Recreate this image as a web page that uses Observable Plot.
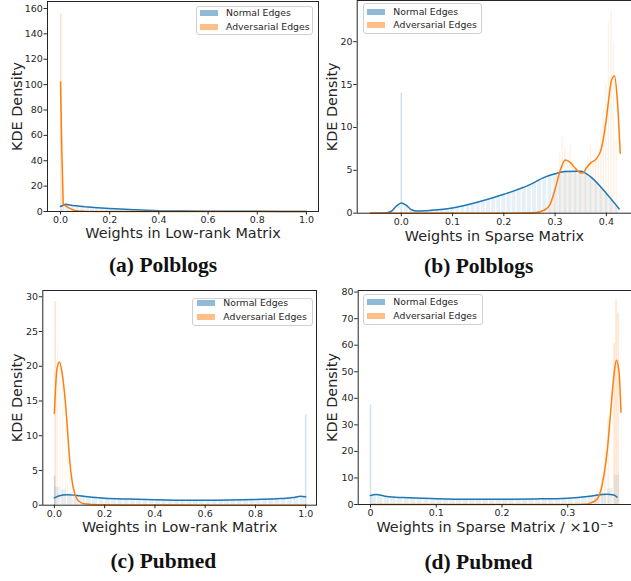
<!DOCTYPE html>
<html><head><meta charset="utf-8">
<script src="https://cdn.jsdelivr.net/npm/d3@7"></script>
<script src="https://cdn.jsdelivr.net/npm/@observablehq/plot@0.6"></script>
<style>
body{margin:0;background:#fff;}
#root{position:relative;width:631px;height:581px;overflow:hidden;font-family:"DejaVu Sans",sans-serif;background:#fff;}
.panel{position:absolute;}
.legend{position:absolute;border:1px solid #d0d0d0;border-radius:3px;background:rgba(255,255,255,0.8);box-sizing:border-box;font-size:9.3px;color:#262626;}
.row{position:absolute;white-space:nowrap;height:14px;line-height:14px;}
.sw{position:absolute;width:18px;height:6px;}
.cap{position:absolute;font-family:"Liberation Serif",serif;font-weight:bold;font-size:21.5px;line-height:21.5px;color:#111;transform:translateX(-50%);white-space:nowrap;}
</style></head>
<body>
<div id="root"></div>
<script>
// ---------- shared ----------
const seriesNames = ["Normal Edges", "Adversarial Edges"];
const seriesColors = ["#1f77b4", "#ff7f0e"];
const histColors = ["#8fbbd9", "#ffbf86"];
const yLabelText = "KDE Density";
const captions = ["(a) Polblogs", "(b) Polblogs", "(c) Pubmed", "(d) Pubmed"];
const xLabels = ["Weights in Low-rank Matrix", "Weights in Sparse Matrix", "Weights in Low-rank Matrix", "Weights in Sparse Matrix / \u00d710\u207b\u00b3"];

// ---------- panel (a) ----------
const aXTicks = [0, 0.2, 0.4, 0.6, 0.8, 1.0];
const aXTickLabels = ["0.0", "0.2", "0.4", "0.6", "0.8", "1.0"];
const aYTicks = [0, 20, 40, 60, 80, 100, 120, 140, 160];
const aBlueX = [0, 0.02, 0.05, 0.1, 0.15, 0.2, 0.3, 0.4, 0.5, 0.6, 0.7, 0.8, 0.9, 1.0];
const aBlueY = [3.9, 5.7, 4.8, 3.7, 3.0, 2.4, 1.3, 0.6, 0.35, 0.2, 0.15, 0.1, 0.08, 0.05];
const aOrangeX = [0, 0.005, 0.011, 0.02, 0.03, 0.04, 0.05, 0.06, 0.08, 0.1, 0.15, 0.2, 0.4, 0.6, 0.8, 1.0];
const aOrangeY = [102, 50, 5.5, 4.5, 3.3, 2.3, 1.4, 0.8, 0.3, 0.1, 0.02, 0, 0, 0, 0, 0];
const aBlueHistX = [0.01,0.03,0.05,0.07,0.09,0.11,0.13,0.15,0.17,0.19,0.21,0.23,0.25,0.27,0.29,0.31,0.33,0.35,0.37,0.39,0.41,0.43,0.45,0.47,0.49];
const aBlueHistH = [5, 6, 5, 4.5, 4, 3.6, 3.2, 2.9, 2.6, 2.3, 2.1, 1.9, 1.7, 1.5, 1.3, 1.2, 1.0, 0.9, 0.8, 0.7, 0.6, 0.5, 0.45, 0.4, 0.35];
const aBlueHistW = 0.02;
const aOrangeHistX = [0.013, 0.023, 0.033, 0.043, 0.053];
const aOrangeHistH = [6, 4, 3, 1.5, 0.8];
const aOrangeHistW = 0.008;
const aSpikeX = [0.001];
const aSpikeH = [156];
const aSpikeS = [1];

// ---------- panel (b) ----------
const bXTicks = [0, 0.1, 0.2, 0.3, 0.4];
const bXTickLabels = ["0.0", "0.1", "0.2", "0.3", "0.4"];
const bYTicks = [0, 5, 10, 15, 20];
const bBlueX = [-0.06, -0.03, -0.02, -0.01, 0.0, 0.01, 0.02, 0.03, 0.05, 0.1, 0.15, 0.2, 0.25, 0.28, 0.3, 0.32, 0.35, 0.37, 0.4, 0.425];
const bBlueY = [0, 0.02, 0.2, 0.8, 1.2, 0.9, 0.4, 0.25, 0.3, 0.6, 1.3, 2.2, 3.3, 4.2, 4.6, 4.85, 4.9, 4.2, 2.3, 0.5];
const bOrangeX = [-0.06, 0.1, 0.2, 0.26, 0.28, 0.29, 0.3, 0.31, 0.32, 0.33, 0.34, 0.35, 0.355, 0.36, 0.37, 0.38, 0.39, 0.4, 0.405, 0.41, 0.416, 0.421, 0.427];
const bOrangeY = [0, 0, 0, 0.05, 0.4, 1.0, 2.8, 5.0, 6.2, 5.9, 5.2, 4.7, 4.7, 5.2, 5.9, 6.3, 7.5, 11, 13.5, 15.5, 16.0, 13.5, 7.0];
const bBlueHistX = [0.01,0.02,0.03,0.04,0.05,0.06,0.07,0.08,0.09,0.10,0.11,0.12,0.13,0.14,0.15,0.16,0.17,0.18,0.19,0.20,0.21,0.22,0.23,0.24,0.25,0.26,0.27,0.28,0.29,0.30,0.31,0.32,0.33,0.34,0.35,0.36,0.37,0.38,0.39,0.40,0.41,0.42];
const bBlueHistH = [0.8,0.4,0.3,0.3,0.35,0.4,0.45,0.5,0.55,0.6,0.7,0.8,0.9,1.1,1.3,1.5,1.6,1.8,2.0,2.2,2.4,2.6,2.9,3.1,3.3,3.6,3.9,4.2,4.4,4.6,4.8,5.0,4.9,5.0,4.9,4.6,4.2,3.6,2.9,2.2,1.5,0.8];
const bBlueHistW = 0.01;
const bOrangeHistX = [0.29,0.295,0.30,0.305,0.31,0.315,0.32,0.325,0.33,0.335,0.34,0.345,0.35,0.355,0.36,0.365,0.37,0.375,0.38,0.385,0.39,0.395,0.40,0.405,0.41,0.415,0.42];
const bOrangeHistH = [0.5,1.5,3,5,7,9,7.5,6,7.9,5.5,5,4.5,5,4.5,5.5,6.5,7.9,6,6.5,7,9.5,12,15,22.4,23.7,20,8.5];
const bOrangeHistW = 0.005;
const bSpikeX = [0.0];
const bSpikeH = [14];
const bSpikeS = [0];

// ---------- panel (c) ----------
const cXTicks = [0, 0.2, 0.4, 0.6, 0.8, 1.0];
const cXTickLabels = ["0.0", "0.2", "0.4", "0.6", "0.8", "1.0"];
const cYTicks = [0, 5, 10, 15, 20, 25, 30];
const cBlueX = [0, 0.02, 0.05, 0.08, 0.1, 0.15, 0.2, 0.3, 0.4, 0.5, 0.6, 0.7, 0.8, 0.9, 0.95, 0.98, 1.0];
const cBlueY = [1.05, 1.35, 1.5, 1.45, 1.35, 1.15, 1.0, 0.88, 0.78, 0.72, 0.7, 0.74, 0.82, 0.95, 1.1, 1.3, 1.2];
const cOrangeX = [0, 0.01, 0.02, 0.03, 0.04, 0.05, 0.06, 0.07, 0.08, 0.09, 0.1, 0.12, 0.15, 0.2, 0.4, 0.6, 0.8, 1.0];
const cOrangeY = [13.2, 19.5, 20.6, 19.2, 16.3, 12.0, 6.9, 3.6, 1.8, 0.9, 0.5, 0.2, 0.1, 0.05, 0.02, 0.01, 0.01, 0.0];
const cBlueHistX = [0.0125,0.0375,0.0625,0.0875,0.1125,0.1375,0.1625,0.1875,0.2125,0.2375,0.2625,0.2875,0.3125,0.3375,0.3625,0.3875,0.4125,0.4375,0.4625,0.4875,0.5125,0.5375,0.5625,0.5875,0.6125,0.6375,0.6625,0.6875,0.7125,0.7375,0.7625,0.7875,0.8125,0.8375,0.8625,0.8875,0.9125,0.9375,0.9625,0.9875];
const cBlueHistH = [2.6,2.2,1.6,1.5,1.4,1.3,1.2,1.1,1.0,1.0,0.95,0.9,0.9,0.85,0.85,0.8,0.8,0.8,0.75,0.75,0.7,0.7,0.7,0.7,0.7,0.7,0.75,0.75,0.75,0.8,0.8,0.85,0.85,0.9,0.95,1.0,1.0,1.1,1.1,1.2];
const cBlueHistW = 0.025;
const cOrangeHistX = [0.01, 0.015, 0.025, 0.035, 0.045, 0.055, 0.065, 0.075, 0.085, 0.095, 0.105];
const cOrangeHistH = [18, 23, 21, 17, 12, 7, 4, 2, 1, 0.5, 0.3];
const cOrangeHistW = 0.008;
const cSpikeX = [0.003, 0.001, 1.0];
const cSpikeH = [29.3, 4.2, 13];
const cSpikeS = [1, 0, 0];

// ---------- panel (d) ----------
const dXTicks = [0, 0.1, 0.2, 0.3];
const dXTickLabels = ["0", "0.1", "0.2", "0.3"];
const dYTicks = [0, 10, 20, 30, 40, 50, 60, 70, 80];
const dBlueX = [0, 0.008, 0.025, 0.05, 0.1, 0.15, 0.2, 0.25, 0.3, 0.33, 0.35, 0.36, 0.37, 0.375];
const dBlueY = [3.4, 3.8, 3.0, 2.6, 2.2, 2.0, 2.0, 2.1, 2.4, 3.0, 3.7, 3.9, 3.6, 2.8];
const dOrangeX = [0, 0.1, 0.2, 0.3, 0.325, 0.335, 0.345, 0.35, 0.355, 0.36, 0.365, 0.37, 0.374, 0.378, 0.381];
const dOrangeY = [0, 0, 0, 0, 0.1, 0.6, 2.1, 5, 11, 20, 34, 48, 54.3, 50, 34.8];
const dBlueHistX = [0.005,0.015,0.025,0.035,0.045,0.055,0.065,0.075,0.085,0.095,0.105,0.115,0.125,0.135,0.145,0.155,0.165,0.175,0.185,0.195,0.205,0.215,0.225,0.235,0.245,0.255,0.265,0.275,0.285,0.295,0.305,0.315,0.325,0.335,0.345,0.355,0.365,0.375];
const dBlueHistH = [3.5,3.4,3.0,2.7,2.6,2.5,2.4,2.3,2.3,2.2,2.2,2.1,2.1,2.0,2.0,2.0,2.0,2.0,2.0,2.0,2.0,2.0,2.0,2.1,2.1,2.1,2.2,2.2,2.3,2.4,2.5,2.7,3.0,3.3,3.7,4.0,6,11];
const dBlueHistW = 0.01;
const dOrangeHistX = [0.3425, 0.3475, 0.3525, 0.3575, 0.3625];
const dOrangeHistH = [2.5, 5, 10, 20, 32];
const dOrangeHistW = 0.005;
const dSpikeX = [0.0, 0.3705, 0.3735, 0.3765];
const dSpikeH = [37.5, 60.5, 76.9, 72];
const dSpikeS = [0, 1, 1, 1];

// ---------- helpers ----------
const zip = (xs, ys) => xs.map((x, i) => ({x, y: ys[i]}));
const bins = (cs, hs, w) => cs.map((c, i) => ({x1: c - w / 2, x2: c + w / 2, y: hs[i]}));
const spikes = (xs, hs, ss) => xs.map((x, i) => ({x, y: hs[i], s: ss[i]}));

const root = document.getElementById("root");

function panel(cfg) {
  const svg = Plot.plot({
    width: cfg.width, height: cfg.height,
    marginLeft: cfg.ml, marginRight: cfg.mr, marginTop: cfg.mt, marginBottom: cfg.mb,
    style: {fontFamily: "DejaVu Sans, sans-serif", color: "#262626", background: "transparent", overflow: "visible"},
    x: {domain: cfg.xDomain},
    y: {domain: cfg.yDomain},
    marks: [
      Plot.rectY(cfg.blueHist, {x1: "x1", x2: "x2", y: "y", fill: seriesColors[0], fillOpacity: 0.11, insetLeft: 0.6, insetRight: 0.6}),
      Plot.rectY(cfg.orangeHist, {x1: "x1", x2: "x2", y: "y", fill: seriesColors[1], fillOpacity: 0.11, insetLeft: 0.6, insetRight: 0.6}),
      Plot.ruleX(cfg.spikes, {x: "x", y1: 0, y2: "y", stroke: d => seriesColors[d.s], strokeOpacity: 0.2, strokeWidth: 1.6}),
      Plot.line(cfg.blue, {x: "x", y: "y", stroke: seriesColors[0], strokeWidth: 1.5, curve: cfg.curve}),
      Plot.line(cfg.orange, {x: "x", y: "y", stroke: seriesColors[1], strokeWidth: 1.5, curve: cfg.curve}),
      Plot.frame({stroke: "#262626", strokeWidth: 1}),
      Plot.axisX({ticks: cfg.xTicks, tickFormat: (d, i) => cfg.xTickLabels[i], tickSize: 3.5, tickPadding: 1.5, fontSize: 9.5, label: null}),
      Plot.axisY({ticks: cfg.yTicks, tickFormat: d => String(d), tickSize: 3.5, tickPadding: 1.2, fontSize: 9.5, label: null}),
      Plot.text([cfg.xLabel], {text: d => d, frameAnchor: "bottom", lineAnchor: "middle", textAnchor: "middle", dy: cfg.xLabelDy, fontSize: 14.4, fill: "#262626"}),
      Plot.text([yLabelText], {text: d => d, frameAnchor: "left", lineAnchor: "middle", textAnchor: "middle", dx: cfg.yLabelDx, rotate: -90, fontSize: 14.4, fill: "#262626"})
    ]
  });
  const wrap = document.createElement("div");
  wrap.className = "panel";
  wrap.style.left = cfg.left + "px";
  wrap.style.top = cfg.top + "px";
  wrap.appendChild(svg);
  root.appendChild(wrap);
}

function legend(l) {
  const box = document.createElement("div");
  box.className = "legend";
  box.style.left = l.left + "px"; box.style.top = l.top + "px";
  box.style.width = l.w + "px"; box.style.height = l.h + "px";
  seriesNames.forEach((name, i) => {
    const cy = l.rows[i] - l.top - 1;
    const sw = document.createElement("div");
    sw.className = "sw";
    sw.style.background = histColors[i];
    sw.style.left = (l.swLeft - l.left - 1) + "px";
    sw.style.top = (cy - 3) + "px";
    box.appendChild(sw);
    const t = document.createElement("div");
    t.className = "row";
    t.textContent = name;
    t.style.left = (l.textLeft - l.left - 1) + "px";
    t.style.top = (cy - 7) + "px";
    box.appendChild(t);
  });
  root.appendChild(box);
}

function caption(text, cx, baseline) {
  const c = document.createElement("div");
  c.className = "cap";
  c.textContent = text;
  c.style.left = cx + "px";
  c.style.top = (baseline - 18) + "px";
  root.appendChild(c);
}

// (a)
panel({left: 0, top: 0, width: 320, height: 250, ml: 47, mr: 2, mt: 1, mb: 39,
  xDomain: [-0.053, 1.049], yDomain: [0, 165.5], xTicks: aXTicks, xTickLabels: aXTickLabels, yTicks: aYTicks,
  blue: zip(aBlueX, aBlueY), orange: zip(aOrangeX, aOrangeY),
  blueHist: bins(aBlueHistX, aBlueHistH, aBlueHistW), orangeHist: bins(aOrangeHistX, aOrangeHistH, aOrangeHistW),
  spikes: spikes(aSpikeX, aSpikeH, aSpikeS), curve: "linear",
  xLabel: xLabels[0], xLabelDy: 22, yLabelDx: -30});
// (b)
panel({left: 310, top: 0, width: 321, height: 250, ml: 46.7, mr: 0, mt: 0, mb: 37.3,
  xDomain: [-0.086, 0.449], yDomain: [0, 24.8], xTicks: bXTicks, xTickLabels: bXTickLabels, yTicks: bYTicks,
  blue: zip(bBlueX, bBlueY), orange: zip(bOrangeX, bOrangeY),
  blueHist: bins(bBlueHistX, bBlueHistH, bBlueHistW), orangeHist: bins(bOrangeHistX, bOrangeHistH, bOrangeHistW),
  spikes: spikes(bSpikeX, bSpikeH, bSpikeS), curve: "monotone-x",
  xLabel: xLabels[1], xLabelDy: 23, yLabelDx: -25});
// (c)
panel({left: 0, top: 285, width: 320, height: 296, ml: 42.3, mr: 4, mt: 5, mb: 76.3,
  xDomain: [-0.046, 1.043], yDomain: [0, 30.9], xTicks: cXTicks, xTickLabels: cXTickLabels, yTicks: cYTicks,
  blue: zip(cBlueX, cBlueY), orange: zip(cOrangeX, cOrangeY),
  blueHist: bins(cBlueHistX, cBlueHistH, cBlueHistW), orangeHist: bins(cOrangeHistX, cOrangeHistH, cOrangeHistW),
  spikes: spikes(cSpikeX, cSpikeH, cSpikeS), curve: "monotone-x",
  xLabel: xLabels[2], xLabelDy: 22.6, yLabelDx: -25.6});
// (d)
panel({left: 310, top: 285, width: 321, height: 296, ml: 47.7, mr: 0, mt: 5, mb: 77,
  xDomain: [-0.0187, 0.397], yDomain: [0, 80.6], xTicks: dXTicks, xTickLabels: dXTickLabels, yTicks: dYTicks,
  blue: zip(dBlueX, dBlueY), orange: zip(dOrangeX, dOrangeY),
  blueHist: bins(dBlueHistX, dBlueHistH, dBlueHistW), orangeHist: bins(dOrangeHistX, dOrangeHistH, dOrangeHistW),
  spikes: spikes(dSpikeX, dSpikeH, dSpikeS), curve: "monotone-x",
  xLabel: xLabels[3], xLabelDy: 23, yLabelDx: -26});

legend({left: 195.7, top: 5.7, w: 117.3, h: 29.3, rows: [13.3, 26.7], swLeft: 200, textLeft: 226});
legend({left: 362.7, top: 3, w: 119.6, h: 31.3, rows: [11.7, 25], swLeft: 367.3, textLeft: 393.3});
legend({left: 192, top: 298.3, w: 120.7, h: 27.7, rows: [302.7, 317], swLeft: 196.7, textLeft: 223.3});
legend({left: 362.7, top: 294.3, w: 120, h: 30.7, rows: [301.7, 315.7], swLeft: 367.3, textLeft: 393.3});

caption(captions[0], 163, 272.7);
caption(captions[1], 478.7, 273.5);
caption(captions[2], 163.3, 568.5);
caption(captions[3], 478.5, 569.5);
</script>
</body></html>
